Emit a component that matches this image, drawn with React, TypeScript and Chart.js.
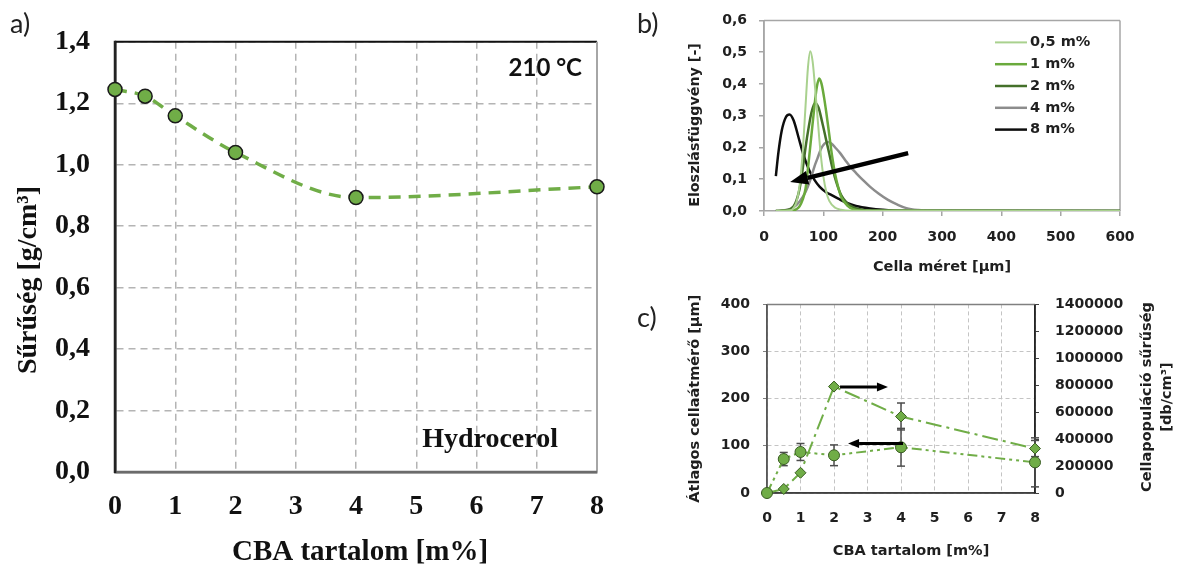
import React, { useEffect, useRef } from "react";
import { Chart, registerables } from "chart.js";

Chart.register(...registerables);

const SERIF = '"Liberation Serif", "Times New Roman", serif';
const SANS = '"DejaVu Sans", Verdana, sans-serif';
const LATO = 'Lato, Calibri, sans-serif';

// ---------- a) density vs CBA content ----------
const aCbaContent = [0, 0.5, 1, 2, 4, 8];
const aDensity = [1.245, 1.223, 1.159, 1.04, 0.893, 0.928];
const aXTicks = [0, 1, 2, 3, 4, 5, 6, 7, 8];
const aYTicks = [0, 0.2, 0.4, 0.6, 0.8, 1.0, 1.2, 1.4];

// ---------- b) cell size distribution ----------
const bSeriesLabels = ["0,5 m%", "1 m%", "2 m%", "4 m%", "8 m%"];
const bSize05 = [20, 45, 50, 55, 60, 65, 70, 74, 78, 82, 86, 90, 95, 100, 105, 110, 120, 130, 145, 600];
const bDist05 = [0, 0.002, 0.01, 0.03, 0.08, 0.18, 0.33, 0.45, 0.503, 0.47, 0.39, 0.3, 0.19, 0.11, 0.06, 0.032, 0.01, 0.004, 0.001, 0];
const bSize1 = [20, 50, 55, 60, 65, 70, 75, 80, 85, 89, 93, 97, 101, 105, 110, 115, 120, 125, 130, 140, 150, 165, 600];
const bDist1 = [0, 0.002, 0.006, 0.015, 0.035, 0.07, 0.15, 0.24, 0.33, 0.39, 0.417, 0.4, 0.36, 0.31, 0.24, 0.17, 0.115, 0.075, 0.045, 0.018, 0.006, 0.001, 0];
const bSize2 = [20, 40, 50, 55, 60, 65, 70, 75, 80, 86, 92, 98, 104, 110, 116, 122, 130, 140, 150, 165, 180, 600];
const bDist2 = [0, 0.003, 0.015, 0.035, 0.07, 0.13, 0.2, 0.26, 0.31, 0.34, 0.325, 0.28, 0.23, 0.18, 0.13, 0.09, 0.05, 0.025, 0.012, 0.004, 0.001, 0];
const bSize4 = [20, 40, 50, 60, 70, 78, 85, 90, 96, 102, 108, 114, 120, 128, 137, 146, 156, 167, 179, 193, 209, 225, 240, 260, 280, 600];
const bDist4 = [0, 0.004, 0.012, 0.03, 0.06, 0.097, 0.14, 0.165, 0.195, 0.212, 0.217, 0.212, 0.2, 0.183, 0.16, 0.138, 0.118, 0.097, 0.076, 0.055, 0.035, 0.02, 0.009, 0.003, 0.001, 0];
const bSize8 = [20, 24, 30, 37, 43, 50, 58, 66, 76, 85, 94, 104, 114, 126, 139, 155, 179, 200, 230, 600];
const bDist8 = [0.11, 0.18, 0.254, 0.296, 0.304, 0.285, 0.233, 0.18, 0.129, 0.098, 0.076, 0.06, 0.05, 0.038, 0.026, 0.016, 0.008, 0.004, 0.001, 0];
const bXTicks = [0, 100, 200, 300, 400, 500, 600];
const bYTicks = [0, 0.1, 0.2, 0.3, 0.4, 0.5, 0.6];
const bArrow = [243, 0.182, 44, 0.091]; // tail x, tail y, head x, head y

// ---------- c) mean cell diameter & cell population density ----------
const cCbaContent = [0, 0.5, 1, 2, 4, 8];
const cCellDiameter = [0, 72, 87, 80, 97, 65];
const cCellDiameterErr = [0, 14, 18, 22, 40, 52];
const cCellDensity = [0, 30000, 150000, 790000, 568000, 330000];
const cCellDensityErr = [0, 0, 0, 0, 100000, 60000];
const cXTicks = [0, 1, 2, 3, 4, 5, 6, 7, 8];
const cYLeftTicks = [0, 100, 200, 300, 400];
const cYRightTicks = [0, 200000, 400000, 600000, 800000, 1000000, 1200000, 1400000];
const cArrows = [
  [2.18, 225, 3.61, 225],
  [4.06, 105, 2.42, 105],
];

// ---------- helpers ----------
function line(ctx: any, x1: number, y1: number, x2: number, y2: number, color: string, w: number) {
  ctx.save();
  ctx.strokeStyle = color;
  ctx.lineWidth = w;
  ctx.setLineDash([]);
  ctx.beginPath();
  ctx.moveTo(x1, y1);
  ctx.lineTo(x2, y2);
  ctx.stroke();
  ctx.restore();
}

function text(ctx: any, str: string, x: number, y: number, font: string, color: string, align = "center", rot = 0) {
  ctx.save();
  ctx.translate(x, y);
  if (rot) ctx.rotate(rot);
  ctx.font = font;
  ctx.fillStyle = color;
  ctx.textAlign = align;
  ctx.textBaseline = "middle";
  ctx.fillText(str, 0, 0);
  ctx.restore();
}

function arrow(ctx: any, x1: number, y1: number, x2: number, y2: number, shaftW: number, headLen: number, headW: number, color: string) {
  const ang = Math.atan2(y2 - y1, x2 - x1);
  const bx = x2 - headLen * Math.cos(ang);
  const by = y2 - headLen * Math.sin(ang);
  ctx.save();
  ctx.strokeStyle = color;
  ctx.fillStyle = color;
  ctx.lineWidth = shaftW;
  ctx.lineCap = "butt";
  ctx.setLineDash([]);
  ctx.beginPath();
  ctx.moveTo(x1, y1);
  ctx.lineTo(bx, by);
  ctx.stroke();
  ctx.beginPath();
  ctx.moveTo(x2, y2);
  ctx.lineTo(bx + (headW / 2) * Math.sin(ang), by - (headW / 2) * Math.cos(ang));
  ctx.lineTo(bx - (headW / 2) * Math.sin(ang), by + (headW / 2) * Math.cos(ang));
  ctx.closePath();
  ctx.fill();
  ctx.restore();
}

const comma1 = (v: any) => Number(v).toFixed(1).replace(".", ",");
const setTicks = (vals: number[]) => (s: any) => {
  s.ticks = vals.map((v) => ({ value: v }));
};

// ---------- chart a ----------
function makeA(): any {
  const plugin = {
    id: "aOverlay",
    beforeDatasetsDraw(chart: any) {
      const { ctx, chartArea: ca } = chart;
      line(ctx, ca.left, ca.top, ca.right, ca.top, "#111", 2);
      line(ctx, ca.right, ca.top, ca.right, ca.bottom, "#a6a6a6", 2);
      line(ctx, ca.left, ca.bottom, ca.right, ca.bottom, "#6b6b6b", 2.5);
      line(ctx, ca.left, ca.top - 1, ca.left, ca.bottom + 1, "#222", 2.5);
    },
    afterDraw(chart: any) {
      const { ctx, chartArea: ca } = chart;
      text(ctx, "210 °C", ca.right - 15, ca.top + 26, `bold 24px ${LATO}`, "#111", "right");
      text(ctx, "Hydrocerol", ca.right - 39, ca.bottom - 32, `bold 28px ${SERIF}`, "#111", "right");
      text(ctx, "Sűrűség [g/cm³]", 29, 280, `bold 28px ${SERIF}`, "#111", "center", -Math.PI / 2);
      text(ctx, "CBA tartalom [m%]", 360, 553, `bold 29px ${SERIF}`, "#111", "center");
    },
  };
  return {
    type: "line",
    data: {
      datasets: [
        {
          label: "Sűrűség",
          data: aCbaContent.map((x, i) => ({ x, y: aDensity[i] })),
          borderColor: "#70ad47",
          borderWidth: 3.5,
          borderDash: [12, 8],
          cubicInterpolationMode: "monotone",
          pointRadius: 7,
          pointBackgroundColor: "#70ad47",
          pointBorderColor: "#1a1a1a",
          pointBorderWidth: 1.5,
          clip: false,
        },
      ],
    },
    options: {
      responsive: false,
      animation: false,
      events: [],
      layout: { padding: { top: 32, right: 28, left: 0, bottom: 0 } },
      plugins: { legend: { display: false }, tooltip: { enabled: false } },
      scales: {
        x: {
          type: "linear",
          min: 0,
          max: 8,
          afterBuildTicks: setTicks(aXTicks),
          afterFit: (s: any) => {
            s.height = 97;
          },
          ticks: { font: { family: SERIF, size: 28, weight: "bold" }, color: "#111", padding: 18 },
          grid: { color: "#b4b4b4", lineWidth: 1.5, drawTicks: false },
          border: { display: true, color: "#6b6b6b", width: 2.5, dash: [7, 5] },
        },
        y: {
          type: "linear",
          min: 0,
          max: 1.4,
          afterBuildTicks: setTicks(aYTicks),
          afterFit: (s: any) => {
            s.width = 115;
          },
          ticks: { font: { family: SERIF, size: 28, weight: "bold" }, color: "#111", padding: 25, callback: comma1 },
          grid: { color: "#b4b4b4", lineWidth: 1.5, drawTicks: false },
          border: { display: true, color: "#222", width: 2.5, dash: [7, 5] },
        },
      },
    },
    plugins: [plugin],
  };
}

// ---------- chart b ----------
function makeB(): any {
  const series = [
    { x: bSize05, y: bDist05, color: "#a9d18e", w: 2 },
    { x: bSize1, y: bDist1, color: "#6aaa3c", w: 2.5 },
    { x: bSize2, y: bDist2, color: "#44702a", w: 2.5 },
    { x: bSize4, y: bDist4, color: "#8c8c8c", w: 2.5 },
    { x: bSize8, y: bDist8, color: "#0d0d0d", w: 2.5 },
  ];
  const plugin = {
    id: "bOverlay",
    beforeDatasetsDraw(chart: any) {
      const { ctx, chartArea: ca } = chart;
      line(ctx, ca.left, ca.top, ca.right, ca.top, "#a6a6a6", 1.5);
      line(ctx, ca.right, ca.top, ca.right, ca.bottom, "#a6a6a6", 1.5);
      line(ctx, ca.left, ca.top, ca.left, ca.bottom, "#a6a6a6", 1.5);
    },
    afterDatasetsDraw(chart: any) {
      const { ctx, scales } = chart;
      const x1 = scales.x.getPixelForValue(bArrow[0]);
      const y1 = scales.y.getPixelForValue(bArrow[1]);
      const x2 = scales.x.getPixelForValue(bArrow[2]);
      const y2 = scales.y.getPixelForValue(bArrow[3]);
      arrow(ctx, x1, y1, x2, y2, 4.5, 18, 14, "#000");
    },
    afterDraw(chart: any) {
      const { ctx, chartArea: ca } = chart;
      chart.data.datasets.forEach((ds: any, i: number) => {
        const y = ca.top + 22 + i * 21.8;
        line(ctx, ca.right - 125, y, ca.right - 93, y, ds.borderColor, ds.borderWidth);
        text(ctx, ds.label, ca.right - 90, y, `bold 14.5px ${SANS}`, "#1f1f1f", "left");
      });
      text(ctx, "Eloszlásfüggvény [-]", 55, 125, `bold 14.3px ${SANS}`, "#1f1f1f", "center", -Math.PI / 2);
      text(ctx, "Cella méret [µm]", (ca.left + ca.right) / 2, 267, `bold 14.5px ${SANS}`, "#1f1f1f", "center");
    },
  };
  return {
    type: "line",
    data: {
      datasets: series.map((s, i) => ({
        label: bSeriesLabels[i],
        data: s.x.map((x, j) => ({ x, y: s.y[j] })),
        borderColor: s.color,
        borderWidth: s.w,
        pointRadius: 0,
        cubicInterpolationMode: "monotone",
        fill: false,
      })),
    },
    options: {
      responsive: false,
      animation: false,
      events: [],
      layout: { padding: { top: 20, right: 57, left: 0, bottom: 0 } },
      plugins: { legend: { display: false }, tooltip: { enabled: false } },
      scales: {
        x: {
          type: "linear",
          min: 0,
          max: 600,
          afterBuildTicks: setTicks(bXTicks),
          afterFit: (s: any) => {
            s.height = 69;
          },
          ticks: { font: { family: SANS, size: 14, weight: "bold" }, color: "#1f1f1f", padding: 13 },
          grid: { drawOnChartArea: false, drawTicks: true, tickLength: 5, color: "#a6a6a6", lineWidth: 1.5 },
          border: { display: true, color: "#a6a6a6", width: 1.5 },
        },
        y: {
          type: "linear",
          min: 0,
          max: 0.6,
          afterBuildTicks: setTicks(bYTicks),
          afterFit: (s: any) => {
            s.width = 124;
          },
          ticks: { font: { family: SANS, size: 14, weight: "bold" }, color: "#1f1f1f", padding: 12, callback: comma1 },
          grid: { drawOnChartArea: false, drawTicks: true, tickLength: 5, color: "#a6a6a6", lineWidth: 1.5 },
          border: { display: true, color: "#a6a6a6", width: 1.5 },
        },
      },
    },
    plugins: [plugin],
  };
}

// ---------- chart c ----------
function makeC(): any {
  const errs = [cCellDiameterErr, cCellDensityErr];
  const plugin = {
    id: "cOverlay",
    beforeDatasetsDraw(chart: any) {
      const { ctx, chartArea: ca, scales } = chart;
      line(ctx, ca.left, ca.top, ca.right, ca.top, "#808080", 1.5);
      line(ctx, ca.left, ca.top, ca.left, ca.bottom, "#595959", 1.5);
      line(ctx, ca.left, ca.bottom, ca.right, ca.bottom, "#404040", 1.5);
      line(ctx, ca.right, ca.top, ca.right, ca.bottom, "#262626", 1.5);
      chart.data.datasets.forEach((ds: any, i: number) => {
        const ys = scales[ds.yAxisID];
        ds.data.forEach((p: any, j: number) => {
          const e = errs[i][j];
          if (!e) return;
          const px = scales.x.getPixelForValue(p.x);
          const t = ys.getPixelForValue(p.y + e);
          const b = ys.getPixelForValue(p.y - e);
          line(ctx, px, t, px, b, "#4d4d4d", 1.5);
          line(ctx, px - 4, t, px + 4, t, "#4d4d4d", 1.5);
          line(ctx, px - 4, b, px + 4, b, "#4d4d4d", 1.5);
        });
      });
    },
    afterDatasetsDraw(chart: any) {
      const { ctx, scales } = chart;
      cArrows.forEach((a) => {
        arrow(
          ctx,
          scales.x.getPixelForValue(a[0]),
          scales.y.getPixelForValue(a[1]),
          scales.x.getPixelForValue(a[2]),
          scales.y.getPixelForValue(a[3]),
          3,
          11,
          9,
          "#000"
        );
      });
    },
    afterDraw(chart: any) {
      const { ctx, chartArea: ca } = chart;
      const f = `bold 14.5px ${SANS}`;
      text(ctx, "Átlagos cellaátmérő [µm]", 55, (ca.top + ca.bottom) / 2, f, "#1f1f1f", "center", -Math.PI / 2);
      text(ctx, "Cellapopuláció sűrűség", 507, 117, f, "#1f1f1f", "center", -Math.PI / 2);
      text(ctx, "[db/cm³]", 527, 117, f, "#1f1f1f", "center", -Math.PI / 2);
      text(ctx, "CBA tartalom [m%]", 271, 271, f, "#1f1f1f", "center");
    },
  };
  const common = {
    borderColor: "#70ad47",
    borderWidth: 2,
    tension: 0,
    pointRadius: 5.5,
    pointBackgroundColor: "#70ad47",
    pointBorderColor: "#3b5e24",
    pointBorderWidth: 1,
    clip: false,
    fill: false,
  };
  return {
    type: "line",
    data: {
      datasets: [
        {
          ...common,
          label: "Átlagos cellaátmérő",
          yAxisID: "y",
          data: cCbaContent.map((x, i) => ({ x, y: cCellDiameter[i] })),
          borderDash: [10, 4, 3, 4, 3, 4],
          pointStyle: "circle",
        },
        {
          ...common,
          label: "Cellapopuláció sűrűség",
          yAxisID: "y2",
          data: cCbaContent.map((x, i) => ({ x, y: cCellDensity[i] })),
          borderDash: [16, 5, 3, 5],
          pointStyle: "rectRot",
          pointRadius: 5.5,
        },
      ],
    },
    options: {
      responsive: false,
      animation: false,
      events: [],
      layout: { padding: { top: 16, right: 0, left: 0, bottom: 0 } },
      plugins: { legend: { display: false }, tooltip: { enabled: false } },
      scales: {
        x: {
          type: "linear",
          min: 0,
          max: 8,
          afterBuildTicks: setTicks(cXTicks),
          afterFit: (s: any) => {
            s.height = 76;
          },
          ticks: { font: { family: SANS, size: 14, weight: "bold" }, color: "#1f1f1f", padding: 17 },
          grid: { color: "#c4c4c4", lineWidth: 1, drawTicks: false },
          border: { display: true, color: "#404040", width: 1.5, dash: [4, 3] },
        },
        y: {
          type: "linear",
          position: "left",
          min: 0,
          max: 400,
          afterBuildTicks: setTicks(cYLeftTicks),
          afterFit: (s: any) => {
            s.width = 127;
          },
          ticks: { font: { family: SANS, size: 14, weight: "bold" }, color: "#1f1f1f", padding: 13 },
          grid: { color: "#c4c4c4", lineWidth: 1, drawTicks: true, tickLength: 4, tickColor: "#808080" },
          border: { display: true, color: "#595959", width: 1.5, dash: [4, 3] },
        },
        y2: {
          type: "linear",
          position: "right",
          min: 0,
          max: 1400000,
          afterBuildTicks: setTicks(cYRightTicks),
          afterFit: (s: any) => {
            s.width = 142;
          },
          ticks: { font: { family: SANS, size: 14, weight: "bold" }, color: "#1f1f1f", padding: 16, callback: (v: any) => String(v) },
          grid: { drawOnChartArea: false, drawTicks: true, tickLength: 4, color: "#404040" },
          border: { display: true, color: "#262626", width: 1.5 },
        },
      },
    },
    plugins: [plugin],
  };
}

const panelLabel = (left: number, top: number): any => ({
  position: "absolute",
  left,
  top,
  fontFamily: LATO,
  fontSize: 27,
  lineHeight: "27px",
  color: "#222",
  margin: 0,
});

export default function App() {
  const aRef = useRef<HTMLCanvasElement>(null);
  const bRef = useRef<HTMLCanvasElement>(null);
  const cRef = useRef<HTMLCanvasElement>(null);

  useEffect(() => {
    const charts = [
      new Chart(aRef.current as HTMLCanvasElement, makeA()),
      new Chart(bRef.current as HTMLCanvasElement, makeB()),
      new Chart(cRef.current as HTMLCanvasElement, makeC()),
    ];
    return () => charts.forEach((c) => c.destroy());
  }, []);

  return (
    <div style={{ position: "absolute", left: 0, top: 0, width: 1177, height: 569, background: "#fff", overflow: "hidden" }}>
      <canvas ref={aRef} width={625} height={569} style={{ position: "absolute", left: 0, top: 0 }} />
      <canvas ref={bRef} width={537} height={280} style={{ position: "absolute", left: 640, top: 0 }} />
      <canvas ref={cRef} width={537} height={289} style={{ position: "absolute", left: 640, top: 280 }} />
      <div style={panelLabel(10, 9)}>a)</div>
      <div style={panelLabel(637, 9)}>b)</div>
      <div style={panelLabel(637, 303)}>c)</div>
    </div>
  );
}
